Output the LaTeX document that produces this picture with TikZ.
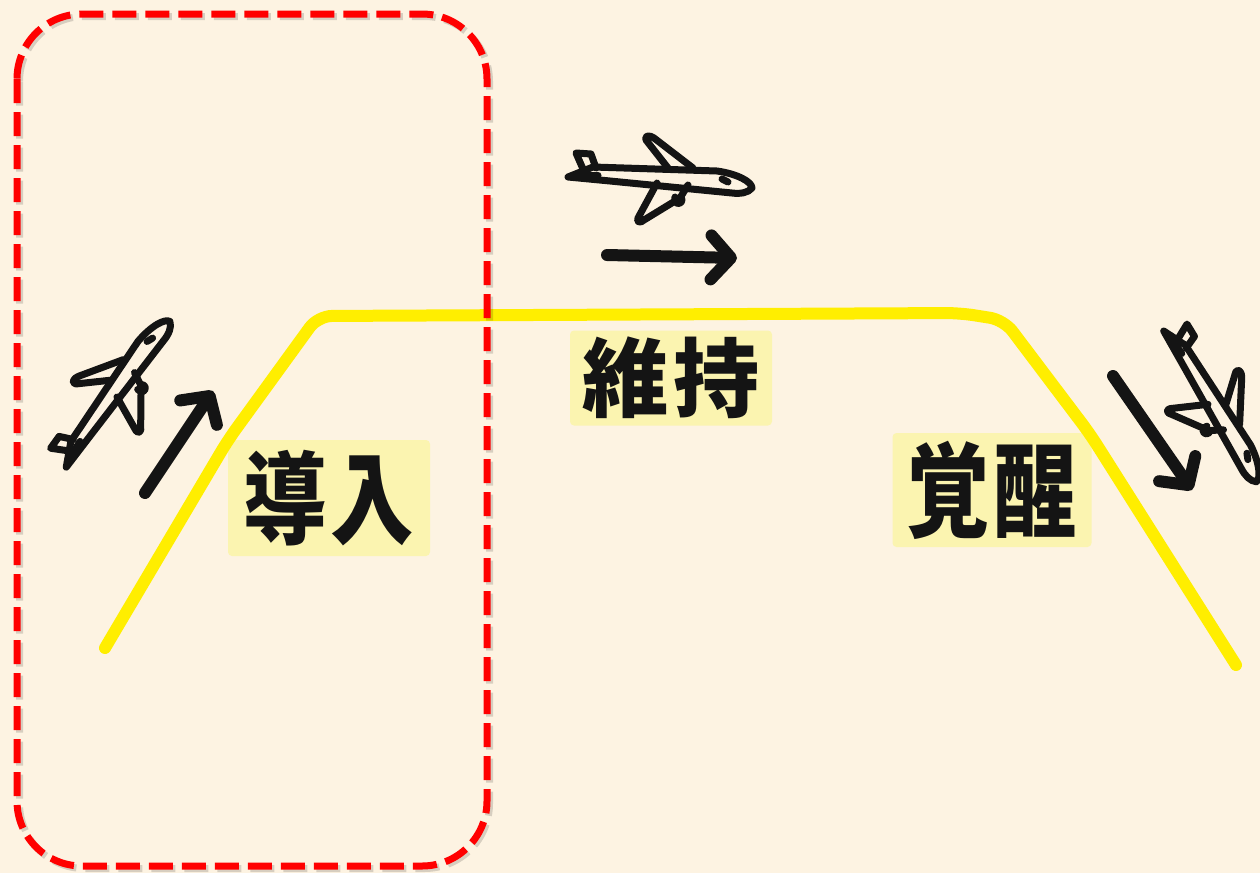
\documentclass[tikz,border=0pt]{standalone}
\usepackage{fontspec}
\usepackage{graphicx}
\newfontfamily\cjk{Noto Sans CJK JP}
\usetikzlibrary{arrows.meta}

\definecolor{paper}{HTML}{FDF3E2}
\definecolor{hl}{HTML}{FBF4B0}
\definecolor{road}{HTML}{FFEE00}
\definecolor{frame}{HTML}{FF0000}
\definecolor{ink}{HTML}{141414}

\tikzset{
  sketch/.style={draw=ink, line width=7pt, line cap=round, line join=round},
  bigarrow/.style={draw=ink, line width=12pt, line cap=round,
    -{Straight Barb[length=20pt,width=44pt,round]}},
  hlbox/.style={fill=hl, rounded corners=4pt, inner sep=0pt, text=ink,
    font=\cjk\bfseries\fontsize{86}{86}\selectfont},
  phase/.style={draw=frame, line width=7pt, dash pattern=on 24pt off 9pt,
    rounded corners=65pt},
}

% a small hand-drawn airliner, nose pointing to +x, centred at the origin
\newcommand\airliner{%
  \draw[sketch] (-92,-3) -- (-67,-13) -- (57,-9)
    .. controls (78,-6) and (92,2) .. (92,8)
    .. controls (88,13) and (80,14) .. (72,13) -- (-50,1) -- cycle;
  \draw[sketch] (-77,-11) -- (-84,-27) -- (-69,-26) -- (-64,-12);
  \draw[sketch] (-80,-5) -- (-62,-5);
  \draw[sketch] (8,-12) -- (-14,-40)
    .. controls (-16,-45) and (-10,-45) .. (-6,-42) -- (33,-12);
  \draw[sketch] (-3,3) -- (-22,38)
    .. controls (-24,43) and (-19,43) .. (-16,40) -- (20,18) -- (28,5);
  \draw[sketch] (15,17) .. controls (13,25) and (22,26) .. (22,19);
  \draw[sketch] (62,-1) -- (68,2);
}

\begin{document}
\begin{tikzpicture}[x=1pt, y=-1pt]
  % canvas
  \fill[paper] (0,0) rectangle (1260,873);
  \useasboundingbox (0,0) rectangle (1260,873);

  % labels on highlighter patches
  \node[hlbox, minimum width=202pt, minimum height=116pt] (lead) at (329,498)
    {\scalebox{0.97}[1.17]{導\hspace{4pt}入}};
  \node[hlbox, minimum width=202pt, minimum height=95pt] (keep) at (671,378)
    {維\hspace{5pt}持};
  \node[hlbox, minimum width=199pt, minimum height=114pt] (wake) at (992,490)
    {\scalebox{0.97}[1.2]{覚\hspace{4pt}醒}};

  % the flight profile
  \draw[road, line width=12pt, line cap=round, line join=round, rounded corners=14pt]
    (105,648) -- (228,440) -- (318,316) -- (960,313)
    -- (1004,320) -- (1090,434) -- (1236,665);

  % take-off, cruise and landing aircraft
  \begin{scope}[shift={(116,393)}, rotate=58, scale=0.97]
    \airliner
  \end{scope}
  \begin{scope}[shift={(660,180)}]
    \airliner
  \end{scope}
  \begin{scope}[shift={(1212,405)}, rotate=-55, scale=0.96]
    \airliner
  \end{scope}

  % direction arrows
  \coordinate (upA) at (145,493);
  \coordinate (upB) at (213,391);
  \coordinate (flatA) at (607,255);
  \coordinate (flatB) at (737,258);
  \coordinate (downA) at (1113,376);
  \coordinate (downB) at (1192,490);
  \draw[bigarrow] (upA) -- (upB);
  \draw[bigarrow] (flatA) -- (flatB);
  \draw[bigarrow] (downA) -- (downB);

  % dashed frame round the first phase, with a faint shadow
  \draw[phase, draw=black, opacity=0.15] (19.5,16.5) rectangle (489.5,868.5);
  \draw[phase] (17,14) rectangle (487,866);
\end{tikzpicture}
\end{document}
